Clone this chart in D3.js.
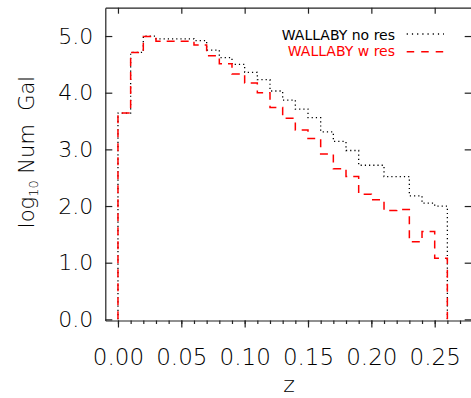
<!DOCTYPE html>
<html>
<head>
<meta charset="utf-8">
<script src="https://cdn.jsdelivr.net/npm/d3@7"></script>
<style>
  html, body { margin: 0; padding: 0; background: #fff; }
  svg { display: block; }
</style>
</head>
<body>
<div id="container"></div>
<script>
// bin left edges in z (width 0.01)
let binEdges = [0.00, 0.01, 0.02, 0.03, 0.04, 0.05, 0.06, 0.07, 0.08, 0.09,
                0.10, 0.11, 0.12, 0.13, 0.14, 0.15, 0.16, 0.17, 0.18, 0.19,
                0.20, 0.21, 0.22, 0.23, 0.24, 0.25];
let binEnd = 0.26;

// log10 number of galaxies per bin
let noRes = [3.64, 4.71, 5.00, 4.95, 4.95, 4.95, 4.92, 4.75, 4.62, 4.50,
             4.36, 4.23, 4.03, 3.87, 3.71, 3.56, 3.31, 3.14, 2.98, 2.72,
             2.72, 2.52, 2.52, 2.18, 2.05, 2.00];
let wRes  = [3.64, 4.71, 4.99, 4.91, 4.91, 4.91, 4.84, 4.65, 4.51, 4.33,
             4.17, 4.00, 3.74, 3.55, 3.34, 3.19, 2.92, 2.66, 2.52, 2.21,
             2.11, 1.92, 1.94, 1.37, 1.55, 1.08];

let xMajor = [0.00, 0.05, 0.10, 0.15, 0.20, 0.25];
let xMinor = d3.range(0, 29).map(d => d / 100);
let yMajor = [0, 1, 2, 3, 4, 5];

let W = 471, H = 398;
let pLeft = 105.3, pRight = 472.7, pTop = 7.7, pBottom = 320.5;

let viz = d3.select("#container")
  .append("svg")
    .attr("width", W)
    .attr("height", H)
;

let x = d3.scaleLinear().domain([-0.01, 0.28]).range([pLeft, pRight]);
let y = d3.scaleLinear().domain([-0.02, 5.5]).range([pBottom, pTop]);

let tickFont = "DejaVu Sans";

// bottom axis, major ticks with labels
let bottomAxis = viz.append("g")
    .attr("transform", "translate(0," + pBottom + ")")
    .call(d3.axisBottom(x).tickValues(xMajor).tickSizeInner(7).tickSizeOuter(0)
      .tickPadding(21).tickFormat(d3.format(".2f")))
;
bottomAxis.selectAll("text")
    .attr("font-family", tickFont)
    .attr("font-size", 23)
    .attr("font-weight", 300)
    .attr("fill", "black")
;

// bottom minor ticks
viz.append("g")
    .attr("transform", "translate(0," + pBottom + ")")
    .call(d3.axisBottom(x).tickValues(xMinor).tickSizeInner(3.5).tickSizeOuter(0).tickFormat(""))
    .call(g => g.select(".domain").remove())
;

// top axis
viz.append("g")
    .attr("transform", "translate(0," + pTop + ")")
    .call(d3.axisTop(x).tickValues(xMajor).tickSizeInner(-6).tickSizeOuter(0).tickFormat(""))
;

// left axis
let leftAxis = viz.append("g")
    .attr("transform", "translate(" + pLeft + ",0)")
    .call(d3.axisLeft(y).tickValues(yMajor).tickSizeInner(-7).tickSizeOuter(0)
      .tickPadding(12).tickFormat(d3.format(".1f")))
;
leftAxis.selectAll("text")
    .attr("font-family", tickFont)
    .attr("font-size", 22)
    .attr("font-weight", 300)
    .attr("fill", "black")
;

// right axis
viz.append("g")
    .attr("transform", "translate(" + pRight + ",0)")
    .call(d3.axisRight(y).tickValues(yMajor).tickSizeInner(-8).tickSizeOuter(0).tickFormat(""))
;

viz.selectAll(".domain, .tick line")
    .attr("stroke", "#222")
    .attr("stroke-width", 1.2)
;

// histogram steps
let stepLine = d3.line()
    .x(d => x(d[0]))
    .y(d => y(d[1]))
    .curve(d3.curveStepAfter)
;

function stepPoints(vals) {
  let pts = [[binEdges[0], 0]];
  binEdges.forEach((e, i) => pts.push([e, vals[i]]));
  pts.push([binEnd, 0]);
  return pts;
}

// no res, black dotted
viz.append("path")
    .attr("d", stepLine(stepPoints(noRes)))
    .attr("fill", "none")
    .attr("stroke", "black")
    .attr("stroke-width", 1.3)
    .attr("stroke-dasharray", "1.2,3")
;

// w res, red dashed
viz.append("path")
    .attr("d", stepLine(stepPoints(wRes)))
    .attr("fill", "none")
    .attr("stroke", "red")
    .attr("stroke-width", 1.5)
    .attr("stroke-dasharray", "8,6")
;

// legend
viz.append("text")
    .text("WALLABY no res")
    .attr("x", 395)
    .attr("y", 40)
    .attr("text-anchor", "end")
    .attr("font-family", tickFont)
    .attr("font-size", 14)
    .attr("fill", "black")
;
viz.append("line")
    .attr("x1", 406.7).attr("y1", 34)
    .attr("x2", 444).attr("y2", 34)
    .attr("stroke", "black")
    .attr("stroke-width", 1.3)
    .attr("stroke-dasharray", "1.2,4")
;
viz.append("text")
    .text("WALLABY w res")
    .attr("x", 395)
    .attr("y", 55.7)
    .attr("text-anchor", "end")
    .attr("font-family", tickFont)
    .attr("font-size", 14)
    .attr("fill", "red")
;
viz.append("line")
    .attr("x1", 406.7).attr("y1", 51.7)
    .attr("x2", 444).attr("y2", 51.7)
    .attr("stroke", "red")
    .attr("stroke-width", 1.5)
    .attr("stroke-dasharray", "7.5,7")
;

// axis titles
viz.append("text")
    .text("z")
    .attr("x", (pLeft + pRight) / 2)
    .attr("y", 392)
    .attr("text-anchor", "middle")
    .attr("font-family", tickFont)
    .attr("font-size", 22)
    .attr("font-weight", 300)
    .attr("fill", "black")
;

let yTitle = viz.append("text")
    .attr("transform", "translate(34,152) rotate(-90)")
    .attr("text-anchor", "middle")
    .attr("font-family", tickFont)
    .attr("font-size", 21)
    .attr("font-weight", 300)
    .attr("fill", "black")
;
yTitle.append("tspan").text("log");
yTitle.append("tspan").text("10").attr("font-size", 13).attr("dy", 4);
yTitle.append("tspan").text("\u00a0Num\u00a0\u00a0Gal").attr("dy", -4);
</script>
</body>
</html>
